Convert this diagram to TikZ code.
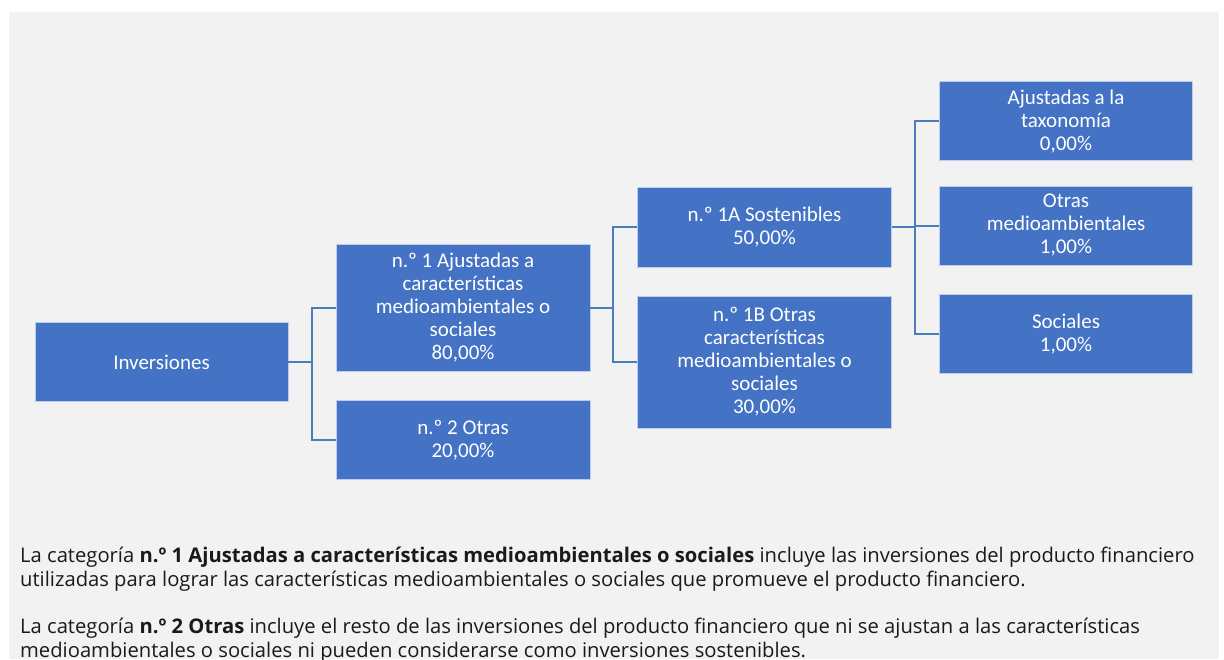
\documentclass[tikz,border=0pt]{standalone}
\usepackage{fontspec}
\setmainfont{Carlito}
\newfontfamily\notefont{Open Sans}
\definecolor{boxblue}{HTML}{4472C4}
\definecolor{linkblue}{HTML}{4A7EBB}
\definecolor{bggray}{HTML}{F2F2F2}
\definecolor{notetext}{HTML}{1A1A1A}
\begin{document}
\begin{tikzpicture}[x=1pt,y=-1pt,
  catbox/.style={rectangle, fill=boxblue, draw=white!65!boxblue, line width=0.7pt,
    text=white, align=center, inner sep=0pt,
    font=\fontsize{21}{23}\selectfont},
  link/.style={draw=linkblue, line width=2pt},
  note/.style={anchor=base west, inner sep=0pt, text=notetext,
    font=\notefont\fontsize{20.2}{24}\selectfont}]
\useasboundingbox (0,0) rectangle (1224,659);
\fill[white] (0,0) rectangle (1224,659);
\fill[bggray] (9,12) rectangle (1219,659);

\node[catbox, minimum width=253pt, minimum height=79pt] (inv) at (161.5,362) {Inversiones};
\node[catbox, minimum width=254pt, minimum height=127.5pt] (n1) at (463,308)
  {n.º 1 Ajustadas a\\características\\medioambientales o\\sociales\\80,00\%};
\node[catbox, minimum width=254pt, minimum height=78.5pt] (n2) at (463,440) {n.º 2 Otras\\20,00\%};
\node[catbox, minimum width=254pt, minimum height=79.3pt] (a1) at (764.5,227.3) {n.º 1A Sostenibles\\50,00\%};
\node[catbox, minimum width=254pt, minimum height=132pt] (b1) at (764.5,362)
  {n.º 1B Otras\\características\\medioambientales o\\sociales\\30,00\%};
\node[catbox, minimum width=253.4pt, minimum height=79pt] (t1) at (1066,121.2) {Ajustadas a la\\taxonomía\\0,00\%};
\node[catbox, minimum width=253.4pt, minimum height=79pt] (t2) at (1066,225.5) {Otras\\medioambientales\\1,00\%};
\node[catbox, minimum width=253.4pt, minimum height=79.3pt] (t3) at (1066,333.7) {Sociales\\1,00\%};

\coordinate (j1) at (312,362);
\coordinate (j2) at (613,308);
\coordinate (j3) at (915,227.3);

\draw[link] (inv.east) -- (j1);
\draw[link] (n1.west) -| (j1) |- (n2.west);
\draw[link] (n1.east) -- (j2);
\draw[link] (a1.west) -| (j2) |- (b1.west);
\draw[link] (a1.east) -- (j3);
\draw[link] (t1.west) -| (j3) |- (t3.west);
\draw[link] (t2.west) -- (t2.west -| j3);

\node[note] (p1a) at (20,562) {La categoría \textbf{n.º 1 Ajustadas a características medioambientales o sociales} incluye las inversiones del producto financiero};
\node[note] (p1b) at (20,586) {utilizadas para lograr las características medioambientales o sociales que promueve el producto financiero.};
\node[note] (p2a) at (20,633) {La categoría \textbf{n.º 2 Otras} incluye el resto de las inversiones del producto financiero que ni se ajustan a las características};
\node[note] (p2b) at (20,657) {medioambientales o sociales ni pueden considerarse como inversiones sostenibles.};
\end{tikzpicture}
\end{document}
